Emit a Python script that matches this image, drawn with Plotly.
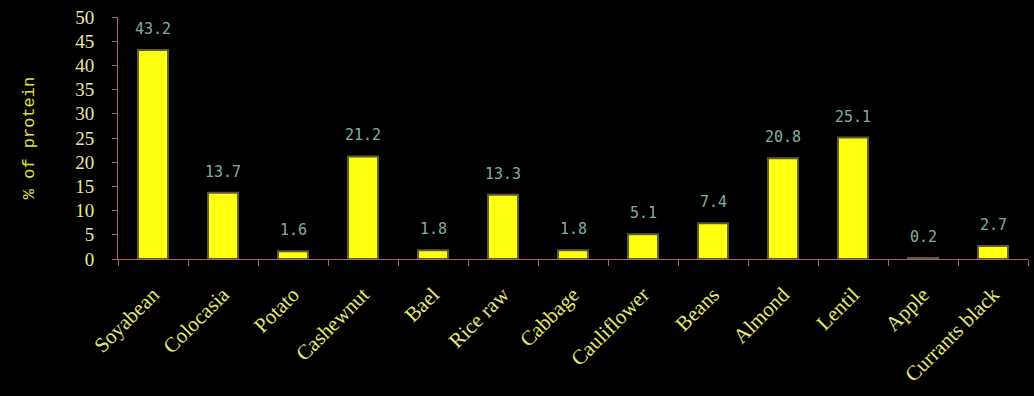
import plotly.graph_objects as go

categories = ["Soyabean", "Colocasia", "Potato", "Cashewnut", "Bael", "Rice raw",
              "Cabbage", "Cauliflower", "Beans", "Almond", "Lentil", "Apple", "Currants black"]
protein = [43.2, 13.7, 1.6, 21.2, 1.8, 13.3, 1.8, 5.1, 7.4, 20.8, 25.1, 0.2, 2.7]
labels = ["43.2", "13.7", "1.6", "21.2", "1.8", "13.3", "1.8", "5.1", "7.4", "20.8", "25.1", "0.2", "2.7"]
y_ticks = [0, 5, 10, 15, 20, 25, 30, 35, 40, 45, 50]

axis_color = "#b06070"
label_yellow = "#e8e870"

fig = go.Figure(go.Bar(
    x=categories, y=protein,
    marker=dict(color="#ffff10", line=dict(color="#5a5a40", width=2)),
))

for cat, val, lab in zip(categories, protein, labels):
    fig.add_annotation(x=cat, y=val, text=lab, showarrow=False,
                       yanchor="bottom", yshift=10,
                       font=dict(family="DejaVu Sans Mono", size=15, color="#80b0a0"))

fig.update_layout(
    width=1034, height=396,
    paper_bgcolor="black", plot_bgcolor="black",
    margin=dict(l=118, r=6, t=17, b=137),
    bargap=0.57,
    showlegend=False,
    xaxis=dict(
        automargin=False,
        showline=True, linecolor=axis_color, linewidth=1,
        ticks="outside", tickson="boundaries", ticklen=6, tickcolor=axis_color,
        tickangle=-45, showgrid=False, ticklabelstandoff=14,
        tickfont=dict(family="Liberation Serif", size=21, color=label_yellow),
    ),
    yaxis=dict(
        automargin=False,
        range=[0, 50], tickvals=y_ticks, showgrid=False, zeroline=False,
        showline=True, linecolor=axis_color, linewidth=1,
        ticks="outside", ticklen=5, tickcolor=axis_color, ticklabelstandoff=14,
        tickfont=dict(family="Liberation Serif", size=19, color="#e8e8a0"),
        title=dict(text="% of protein", standoff=36,
                   font=dict(family="Liberation Mono", size=17, color="#e0e040")),
    ),
)

fig.write_html("out.html")
